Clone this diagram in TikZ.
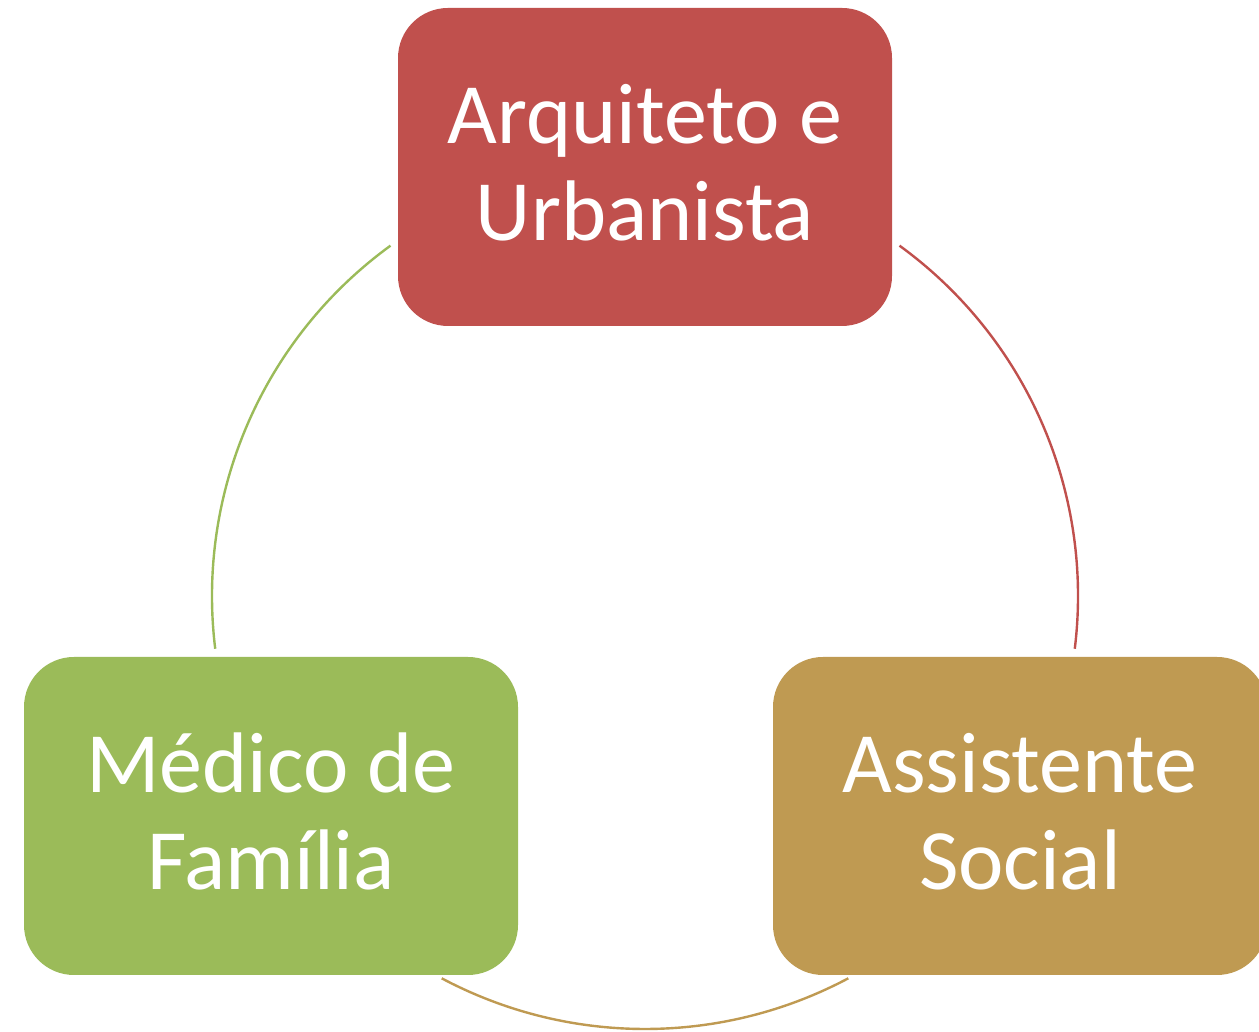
\documentclass[tikz,border=0pt]{standalone}
\usepackage{fontspec}
\setmainfont{Carlito}
\usepackage{tikz}
\usetikzlibrary{calc, positioning}

\definecolor{boxred}{HTML}{C0504D}
\definecolor{boxgreen}{HTML}{9BBB59}
\definecolor{boxgold}{HTML}{BF9A52}

\begin{document}
\begin{tikzpicture}[
    x=1pt, y=1pt,
    font=\fontsize{86}{97}\selectfont
]

    % Global style for the role boxes
    \tikzset{
        rolebox/.style={
            rounded corners=50pt, minimum width=494pt, minimum height=318pt,
            inner sep=0pt, text depth=10pt, text=white, align=center
        },
        cycarc/.style={line width=2.4pt}
    }

    \clip (0, 0) rectangle (1259, 1032);

    % Circle the cycle runs on
    \coordinate (C) at (645, 436);

    % Role boxes
    \node[rolebox, fill=boxred] (arq) at (645, 865) {Arquiteto e\\Urbanista};
    \node[rolebox, fill=boxgreen] (med) at (271, 216) {Médico de\\Família};
    \node[rolebox, fill=boxgold] (ass) at (1020, 216) {Assistente\\Social};

    % Arcs between the boxes
    \draw[cycarc, boxred] ($(C)+(54:433)$) arc[start angle=54, end angle=-7, radius=433];
    \draw[cycarc, boxgold] ($(C)+(-62:433)$) arc[start angle=-62, end angle=-118, radius=433];
    \draw[cycarc, boxgreen] ($(C)+(126:433)$) arc[start angle=126, end angle=187, radius=433];

\end{tikzpicture}
\end{document}
